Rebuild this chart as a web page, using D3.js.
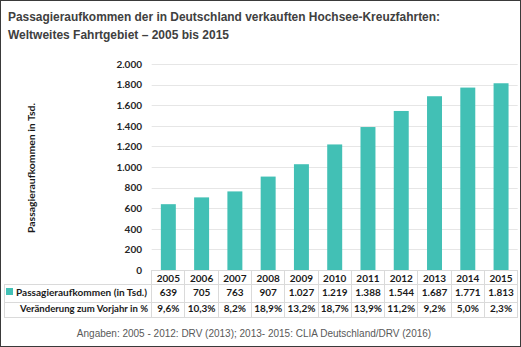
<!DOCTYPE html>
<html><head><meta charset="utf-8">
<script src="https://cdn.jsdelivr.net/npm/d3@7"></script>
<style>html,body{margin:0;padding:0;background:#fff}</style>
</head><body>
<script>
const years = ["2005","2006","2007","2008","2009","2010","2011","2012","2013","2014","2015"];
const passengers = [639,705,763,907,1027,1219,1388,1544,1687,1771,1813];
const changeLabels = ["9,6%","10,3%","8,2%","18,9%","13,2%","18,7%","13,9%","11,2%","9,2%","5,0%","2,3%"];
const yTicks = [0,200,400,600,800,1000,1200,1400,1600,1800,2000];
const titleLines = ["Passagieraufkommen der in Deutschland verkauften Hochsee-Kreuzfahrten:","Weltweites Fahrtgebiet – 2005 bis 2015"];
const rowLabels = ["Passagieraufkommen (in Tsd.)","Veränderung zum Vorjahr in %"];
const yTitle = "Passagieraufkommen in Tsd.";
const source = "Angaben: 2005 - 2012: DRV (2013); 2013- 2015: CLIA Deutschland/DRV (2016)";

const W=521,H=347;
const svg=d3.select("body").append("svg").attr("width",W).attr("height",H);
svg.append("rect").attr("x",0.5).attr("y",0.5).attr("width",W-1).attr("height",H-1).attr("fill","#fff").attr("stroke","#3a3a3a");

const fmt = v => d3.format(",")(v).replace(/,/g,".");
const bodyFont="Lato, 'Open Sans', sans-serif";
const barColor="#42c0b5";
const gridColor="#e6e6e6";
const tableColor="#dadada";
const textColor="#1a1a1a";

// title
svg.append("g").selectAll("text").data(titleLines).join("text")
  .attr("x",8).attr("y",(d,i)=>21+i*17.5)
  .attr("font-family","'Liberation Sans', Arial, sans-serif").attr("font-weight","bold")
  .attr("font-size",12.5).attr("fill","#404040")
  .attr("textLength",(d,i)=>i===0?432:221).attr("lengthAdjust","spacingAndGlyphs")
  .text(d=>d);

const x0=151.7,x1=517.7;
const x=d3.scaleBand().domain(years).range([x0,x1]).paddingInner(0.55).paddingOuter(0.275);
const y=d3.scaleLinear().domain([0,2000]).range([270,64]);

// grid
svg.append("g").selectAll("line").data(yTicks.filter(t=>t>0)).join("line")
  .attr("x1",x0).attr("x2",x1).attr("y1",d=>Math.round(y(d))+0.5).attr("y2",d=>Math.round(y(d))+0.5)
  .attr("stroke",gridColor);

// y axis labels
const yAxis=d3.axisLeft(y).tickValues(yTicks).tickFormat(fmt).tickSize(0).tickPadding(0);
const ga=svg.append("g").attr("transform","translate(142,0)").call(yAxis);
ga.select(".domain").remove();
ga.selectAll("text").attr("font-family",bodyFont).attr("font-weight","bold").attr("font-size",10).attr("fill","#262626");

// y title
svg.append("text").attr("transform","translate(35,168) rotate(-90)")
  .attr("text-anchor","middle").attr("font-family",bodyFont).attr("font-weight","bold")
  .attr("font-size",10).attr("fill","#1a1a1a")
  .attr("textLength",130).attr("lengthAdjust","spacingAndGlyphs").text(yTitle);

// bars
svg.append("g").selectAll("rect").data(passengers).join("rect")
  .attr("x",(d,i)=>x(years[i])).attr("width",x.bandwidth())
  .attr("y",d=>y(d)).attr("height",d=>y(0)-y(d)).attr("fill",barColor);

// table
const step=x.step();
const rowY=[270,284,302.7,317.7];
const tg=svg.append("g").attr("stroke",tableColor).attr("shape-rendering","crispEdges");
tg.append("line").attr("x1",x0).attr("x2",x1).attr("y1",rowY[0]).attr("y2",rowY[0]);
[1,2,3].forEach(k=>tg.append("line").attr("x1",4).attr("x2",x1).attr("y1",rowY[k]).attr("y2",rowY[k]));
d3.range(12).forEach(k=>tg.append("line").attr("x1",x0+k*step).attr("x2",x0+k*step).attr("y1",rowY[0]).attr("y2",rowY[3]));
tg.append("line").attr("x1",4).attr("x2",4).attr("y1",rowY[1]).attr("y2",rowY[3]);

const cellText=(arr,yy)=>svg.append("g").selectAll("text").data(arr).join("text")
  .attr("x",(d,i)=>x(years[i])+x.bandwidth()/2).attr("y",yy).attr("text-anchor","middle")
  .attr("font-family",bodyFont).attr("font-weight","bold").attr("font-size",10).attr("fill",textColor).text(d=>d);
cellText(years,281.5);
cellText(passengers.map(fmt),296);
cellText(changeLabels,311.5);

svg.append("rect").attr("x",6).attr("y",288).attr("width",7).attr("height",7).attr("fill",barColor);
svg.append("g").selectAll("text").data(rowLabels).join("text")
  .attr("x",(d,i)=>i?20:16).attr("y",(d,i)=>i?311.5:296)
  .attr("textLength",(d,i)=>i?128:131).attr("lengthAdjust","spacingAndGlyphs")
  .attr("font-family",bodyFont).attr("font-weight","bold").attr("font-size",10).attr("fill",textColor).text(d=>d);

// source
svg.append("text").attr("x",254).attr("y",337).attr("text-anchor","middle")
  .attr("font-family","'Liberation Sans', Arial, sans-serif").attr("font-size",10).attr("fill","#595959").text(source);
</script>
</body></html>
